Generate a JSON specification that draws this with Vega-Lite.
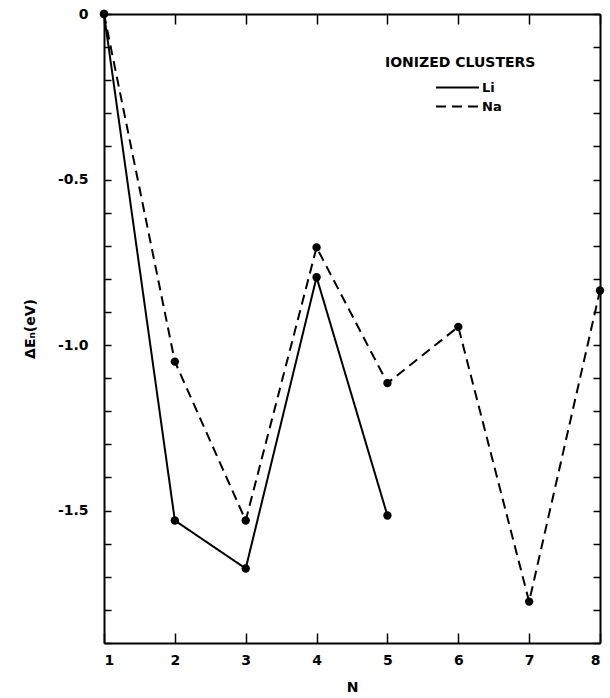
{
  "$schema": "https://vega.github.io/schema/vega-lite/v6.json",
  "width": 496,
  "height": 629,
  "autosize": {"type": "none"},
  "padding": {"left": 104, "top": 14, "right": 10, "bottom": 55},
  "background": "white",
  "config": {
    "view": {"stroke": null},
    "font": "DejaVu Sans",
    "axis": {
      "grid": false,
      "domainColor": "black",
      "domainWidth": 2,
      "tickColor": "black",
      "tickWidth": 1.5,
      "labelColor": "black",
      "labelFont": "DejaVu Sans",
      "labelFontSize": 14,
      "labelFontWeight": "bold",
      "titleColor": "black",
      "titleFont": "DejaVu Sans",
      "titleFontSize": 14,
      "titleFontWeight": "bold"
    }
  },
  "data": {
    "values": [
      {"N": 1, "dE": 0, "metal": "Li"},
      {"N": 2, "dE": -1.53, "metal": "Li"},
      {"N": 3, "dE": -1.675, "metal": "Li"},
      {"N": 4, "dE": -0.795, "metal": "Li"},
      {"N": 5, "dE": -1.515, "metal": "Li"},
      {"N": 1, "dE": 0, "metal": "Na"},
      {"N": 2, "dE": -1.05, "metal": "Na"},
      {"N": 3, "dE": -1.53, "metal": "Na"},
      {"N": 4, "dE": -0.705, "metal": "Na"},
      {"N": 5, "dE": -1.115, "metal": "Na"},
      {"N": 6, "dE": -0.945, "metal": "Na"},
      {"N": 7, "dE": -1.775, "metal": "Na"},
      {"N": 8, "dE": -0.835, "metal": "Na"}
    ]
  },
  "layer": [
    {
      "mark": {"type": "line", "strokeWidth": 2, "color": "black", "clip": false},
      "encoding": {
        "x": {
          "field": "N",
          "type": "quantitative",
          "scale": {"domain": [1, 8], "nice": false, "zero": false},
          "axis": {
            "orient": "bottom",
            "values": [1, 2, 3, 4, 5, 6, 7, 8],
            "format": "d",
            "tickSize": -10,
            "labelPadding": 20,
            "title": "N",
            "titlePadding": 13
          }
        },
        "y": {
          "field": "dE",
          "type": "quantitative",
          "scale": {"domain": [-1.9, 0], "nice": false, "zero": false},
          "axis": {
            "orient": "left",
            "values": [0, -0.1, -0.2, -0.3, -0.4, -0.5, -0.6, -0.7, -0.8, -0.9, -1, -1.1, -1.2, -1.3, -1.4, -1.5, -1.6, -1.7, -1.8, -1.9],
            "labelExpr": "datum.value == 0 ? '0' : (abs(datum.value * 2 - round(datum.value * 2)) < 0.000001 ? '-' + format(abs(datum.value), '.1f') : '')",
            "tickSize": -7,
            "labelPadding": 23,
            "title": "ΔEₙ(eV)",
            "titlePadding": 20
          }
        },
        "strokeDash": {
          "field": "metal",
          "type": "nominal",
          "scale": {"domain": ["Li", "Na"], "range": [[1, 0], [10, 6]]},
          "legend": {
            "title": "IONIZED CLUSTERS",
            "orient": "none",
            "legendX": 281,
            "legendY": 42,
            "symbolType": "M-4.3,0H4.3",
            "symbolSize": 100,
            "symbolStrokeWidth": 2,
            "symbolStrokeColor": "black",
            "symbolFillColor": "transparent",
            "symbolOffset": 66,
            "rowPadding": 5,
            "labelFont": "DejaVu Sans",
            "labelFontSize": 13,
            "labelFontWeight": "bold",
            "labelColor": "black",
            "labelOffset": 18,
            "titleFont": "DejaVu Sans",
            "titleFontSize": 14,
            "titleFontWeight": "bold",
            "titleColor": "black",
            "titlePadding": 11
          }
        }
      }
    },
    {
      "mark": {"type": "point", "filled": true, "size": 70, "color": "black", "opacity": 1, "clip": false},
      "encoding": {
        "x": {
          "field": "N",
          "type": "quantitative",
          "axis": {
            "orient": "top",
            "values": [1, 2, 3, 4, 5, 6, 7, 8],
            "labels": false,
            "tickSize": -10,
            "title": null
          }
        },
        "y": {
          "field": "dE",
          "type": "quantitative",
          "axis": {
            "orient": "right",
            "values": [0, -0.1, -0.2, -0.3, -0.4, -0.5, -0.6, -0.7, -0.8, -0.9, -1, -1.1, -1.2, -1.3, -1.4, -1.5, -1.6, -1.7, -1.8, -1.9],
            "labels": false,
            "tickSize": -7,
            "title": null
          }
        }
      }
    }
  ],
  "resolve": {"axis": {"x": "independent", "y": "independent"}}
}
